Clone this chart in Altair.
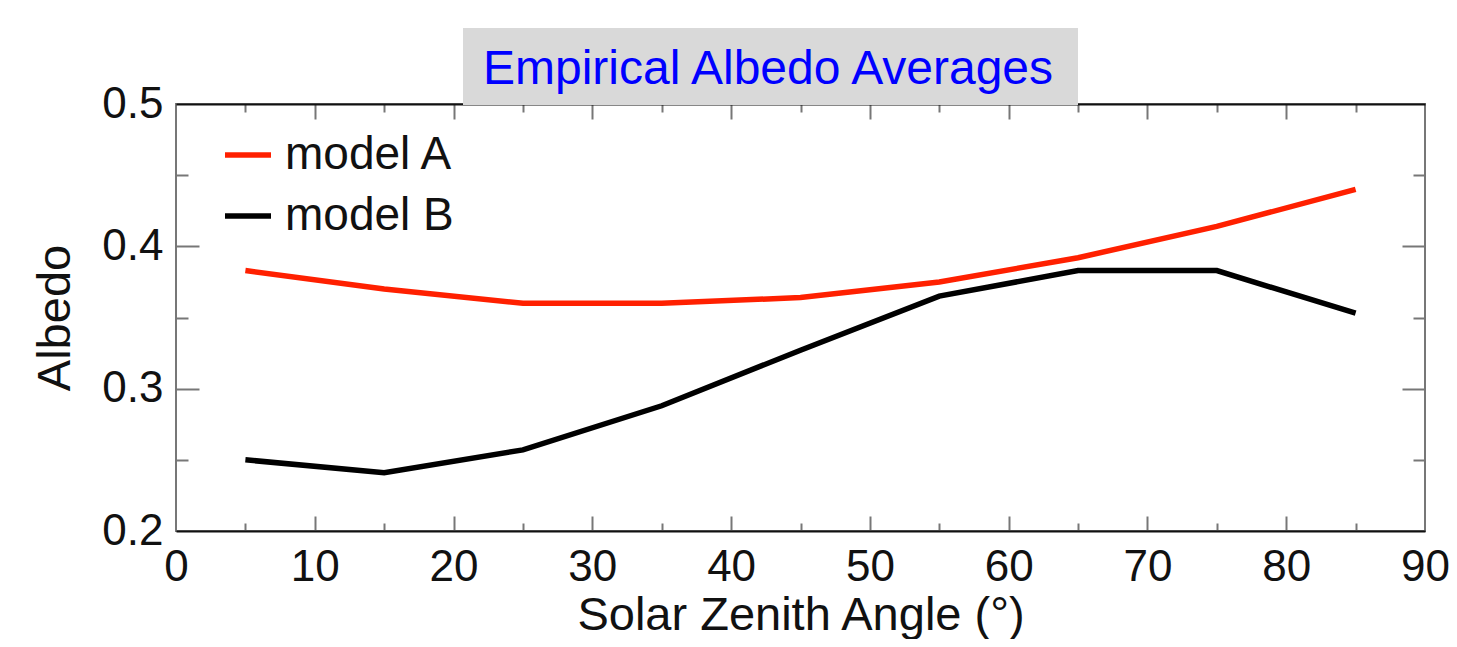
import altair as alt
import pandas as pd

angles = [5, 15, 25, 35, 45, 55, 65, 75, 85]
model_a = [0.383, 0.370, 0.360, 0.360, 0.364, 0.375, 0.392, 0.414, 0.440]
model_b = [0.250, 0.241, 0.257, 0.288, 0.327, 0.365, 0.383, 0.383, 0.353]
series_names = ["model A", "model B"]
series_colors = ["#ff2000", "#000000"]
x_labels = [0, 10, 20, 30, 40, 50, 60, 70, 80, 90]
x_major = [10, 20, 30, 40, 50, 60, 70, 80]
x_minor = [5, 15, 25, 35, 45, 55, 65, 75, 85]
y_labels = [0.2, 0.3, 0.4, 0.5]
y_major = [0.3, 0.4]
y_minor = [0.25, 0.35, 0.45]
title_text = "Empirical Albedo Averages"

rows = []
for name, vals in zip(series_names, [model_a, model_b]):
    for a, v in zip(angles, vals):
        rows.append({"angle": a, "albedo": v, "model": name})
df = pd.DataFrame(rows)

FONT = "Liberation Sans"
xs = alt.Scale(domain=[0, 90], nice=False, zero=False)
ys = alt.Scale(domain=[0.2, 0.5], nice=False, zero=False)


def tick_axis(orient, values, size, color="#777"):
    return alt.Axis(orient=orient, values=values, tickSize=size, offset=-size,
                    labels=False, domain=False, grid=False, title=None,
                    tickColor=color, tickWidth=2)


main = alt.Chart(df).mark_line(strokeWidth=5.5).encode(
    x=alt.X("angle:Q", scale=xs, axis=alt.Axis(
        orient="bottom", values=x_labels, ticks=False, grid=False,
        domain=True, domainColor="#111", domainWidth=2,
        labelFont=FONT, labelFontSize=44, labelColor="#111", labelPadding=14,
        labelFlush=False, labelOverlap=False,
        title="Solar Zenith Angle (°)", titleFont=FONT, titleFontSize=47,
        titleFontWeight="normal", titleColor="#111", titlePadding=3)),
    y=alt.Y("albedo:Q", scale=ys, axis=alt.Axis(
        orient="left", values=y_labels, format=".1f", ticks=False, grid=False,
        domain=False,
        labelFont=FONT, labelFontSize=44, labelColor="#111", labelPadding=13,
        labelFlush=False, labelOverlap=False,
        title="Albedo", titleFont=FONT, titleFontSize=47,
        titleFontWeight="normal", titleColor="#111", titlePadding=22)),
    color=alt.Color("model:N", scale=alt.Scale(domain=series_names, range=series_colors),
                    legend=alt.Legend(orient="none", legendX=46, legendY=25, title=None,
                                      symbolType="stroke", symbolStrokeWidth=5.5,
                                      symbolSize=2116, labelFont=FONT, labelFontSize=46,
                                      labelColor="#111", labelOffset=11, rowPadding=12,
                                      labelLimit=0, padding=0)),
)


def ghost(xaxis, yaxis):
    return alt.Chart(df).mark_point(opacity=0).encode(
        x=alt.X("angle:Q", scale=xs, axis=xaxis),
        y=alt.Y("albedo:Q", scale=ys, axis=yaxis),
    )


l1 = ghost(tick_axis("bottom", x_major, 15), tick_axis("left", y_major, 23))
l2 = ghost(tick_axis("bottom", x_minor, 8), tick_axis("left", y_minor, 12))
l3 = ghost(tick_axis("top", x_major, 15), tick_axis("right", y_major, 23))
l4 = ghost(tick_axis("top", x_minor, 8), tick_axis("right", y_minor, 12))
l5 = ghost(alt.Axis(orient="top", values=x_labels, ticks=False, labels=False, grid=False,
                    domain=True, domainColor="#111", domainWidth=2, title=None),
           None)

tdf = pd.DataFrame({"t": [title_text]})
box = alt.Chart(tdf).mark_rect(color="#d9d9d9").encode(
    x=alt.value(287), x2=alt.value(902), y=alt.value(-76), y2=alt.value(1))
txt = alt.Chart(tdf).mark_text(font=FONT, fontSize=48, color="#0000ff",
                               align="center", baseline="middle").encode(
    x=alt.value(592), y=alt.value(-34), text="t:N")

chart = alt.layer(l1, l2, l3, l4, l5, main, box, txt).resolve_axis(
    x="independent", y="independent"
).properties(
    width=1249, height=427,
    autosize=alt.AutoSizeParams(type="none"),
    padding={"left": 168, "top": 96, "right": 24, "bottom": 108},
).configure_view(stroke="#777", strokeWidth=2)

chart.save("out.html", embed_options={"renderer": "svg", "actions": False})
